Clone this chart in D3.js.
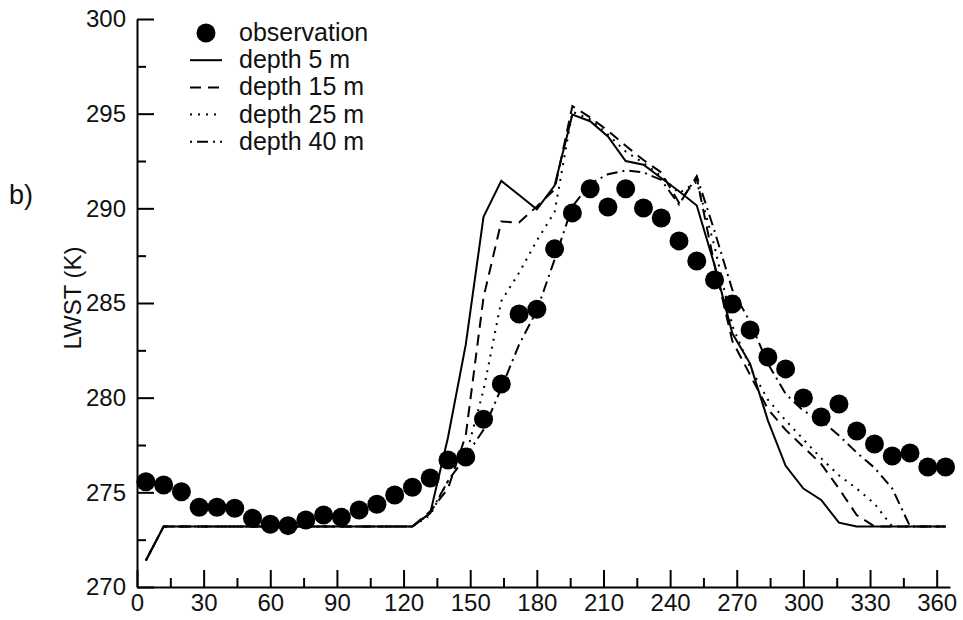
<!DOCTYPE html>
<html>
<head>
<meta charset="utf-8">
<script src="https://cdn.jsdelivr.net/npm/d3@7"></script>
<style>
  body { margin: 0; background: #fff; }
  text { font-family: "Liberation Sans", Arial, sans-serif; fill: #111; }
</style>
</head>
<body>
<div id="chart"></div>
<script>
var w = 963; // Define width
var h = 620; // Define height

// Day of year of each 8-day composite
var days = [4, 12, 20, 28, 36, 44, 52, 60, 68, 76, 84, 92, 100, 108, 116, 124,
    132, 140, 148, 156, 164, 172, 180, 188, 196, 204, 212, 220, 228, 236, 244, 252,
    260, 268, 276, 284, 292, 300, 308, 316, 324, 332, 340, 348, 356, 364];

// Observed LWST (K)
var observation = [275.56, 275.39, 275.03, 274.21, 274.21, 274.16, 273.63, 273.31, 273.24, 273.54,
    273.80, 273.68, 274.07, 274.37, 274.86, 275.27, 275.76, 276.71, 276.87, 278.86,
    280.72, 284.42, 284.67, 287.86, 289.76, 291.03, 290.07, 291.03, 290.02, 289.49,
    288.28, 287.22, 286.22, 284.95, 283.58, 282.15, 281.52, 279.98, 278.98, 279.67,
    278.24, 277.55, 276.92, 277.08, 276.34, 276.34];

// Simulated LWST for each lake depth
var depth5 = [271.4, 273.2, 273.2, 273.2, 273.2, 273.2, 273.2, 273.2, 273.2, 273.2,
    273.2, 273.2, 273.2, 273.2, 273.2, 273.2, 273.9, 277.9, 282.8, 289.55,
    291.45, 290.7, 289.95, 291.2, 294.95, 294.6, 293.8, 292.5, 292.3, 291.6,
    290.9, 290.15, 287.0, 283.4, 281.8, 278.8, 276.4, 275.2, 274.6, 273.4,
    273.2, 273.2, 273.2, 273.2, 273.2, 273.2];
var depth15 = [271.4, 273.2, 273.2, 273.2, 273.2, 273.2, 273.2, 273.2, 273.2, 273.2,
    273.2, 273.2, 273.2, 273.2, 273.2, 273.2, 274.0, 275.2, 278.0, 285.3,
    289.3, 289.25, 290.1, 291.0, 295.4, 294.8, 294.1, 293.3, 292.55, 291.9,
    290.3, 291.6, 287.0, 283.0, 281.2, 279.4, 278.3, 277.4, 276.5, 275.2,
    273.8, 273.2, 273.2, 273.2, 273.2, 273.2];
var depth25 = [271.4, 273.2, 273.2, 273.2, 273.2, 273.2, 273.2, 273.2, 273.2, 273.2,
    273.2, 273.2, 273.2, 273.2, 273.2, 273.2, 273.8, 275.6, 276.9, 280.4,
    285.1, 286.6, 288.3, 289.8, 295.1, 294.7, 293.9, 293.0, 292.4, 291.7,
    290.8, 291.4, 288.0, 283.8, 281.6, 279.9, 278.8, 277.8, 276.8, 275.9,
    275.2, 274.4, 273.2, 273.2, 273.2, 273.2];
var depth40 = [271.4, 273.2, 273.2, 273.2, 273.2, 273.2, 273.2, 273.2, 273.2, 273.2,
    273.2, 273.2, 273.2, 273.2, 273.2, 273.2, 273.9, 275.6, 276.9, 278.3,
    280.5, 282.8, 284.6, 287.3, 290.1, 291.3, 291.8, 292.0, 291.9, 291.5,
    290.2, 291.7, 288.8, 285.7, 284.0, 281.8, 280.2, 279.3, 278.8, 278.0,
    277.1, 276.3, 275.2, 273.2, 273.2, 273.2];

// Tick values
var xTicks = [0, 30, 60, 90, 120, 150, 180, 210, 240, 270, 300, 330, 360];
var xMinorTicks = [15, 45, 75, 105, 135, 165, 195, 225, 255, 285, 315, 345];
var yTicks = [270, 275, 280, 285, 290, 295, 300];
var yMinorTicks = [272.5, 277.5, 282.5, 287.5, 292.5, 297.5];

var legendLabels = ["observation", "depth 5 m", "depth 15 m", "depth 25 m", "depth 40 m"];

function init() {
    var svg = d3.select("#chart")
        .append("svg")
        .attr("width", w)
        .attr("height", h);

    var xScale = d3.scaleLinear()
        .domain([0, 366])
        .range([137, 950]);

    var yScale = d3.scaleLinear()
        .domain([270, 300])
        .range([587, 19]);

    var series = [
        { name: "depth 5 m", values: depth5, dash: null },
        { name: "depth 15 m", values: depth15, dash: "11,7" },
        { name: "depth 25 m", values: depth25, dash: "2,6" },
        { name: "depth 40 m", values: depth40, dash: "2,5,11,5" }
    ];

    var line = d3.line()
        .x(function(d) { return xScale(d.day); })
        .y(function(d) { return yScale(d.value); });

    // Model lines
    svg.selectAll("path.model")
        .data(series)
        .enter()
        .append("path")
        .attr("class", "model")
        .attr("d", function(s) {
            return line(days.map(function(day, i) { return { day: day, value: s.values[i] }; }));
        })
        .attr("fill", "none")
        .attr("stroke", "#000")
        .attr("stroke-width", 2)
        .attr("stroke-dasharray", function(s) { return s.dash; });

    // Observations
    svg.selectAll("circle.obs")
        .data(days)
        .enter()
        .append("circle")
        .attr("class", "obs")
        .attr("cx", function(d) { return xScale(d); })
        .attr("cy", function(d, i) { return yScale(observation[i]); })
        .attr("r", 9.5)
        .attr("fill", "#000");

    // x-axis, ticks pointing up
    svg.append("g")
        .attr("transform", "translate(0," + yScale(270) + ")")
        .call(d3.axisBottom(xScale).tickValues(xTicks).tickSizeInner(-17).tickSizeOuter(0).tickPadding(7));
    svg.append("g")
        .attr("transform", "translate(0," + yScale(270) + ")")
        .call(d3.axisBottom(xScale).tickValues(xMinorTicks).tickSizeInner(-9).tickSizeOuter(0).tickFormat(""))
        .select(".domain").remove();

    // y-axis, ticks pointing right
    svg.append("g")
        .attr("transform", "translate(" + xScale(0) + ",0)")
        .call(d3.axisLeft(yScale).tickValues(yTicks).tickSizeInner(-17).tickSizeOuter(0).tickPadding(11));
    svg.append("g")
        .attr("transform", "translate(" + xScale(0) + ",0)")
        .call(d3.axisLeft(yScale).tickValues(yMinorTicks).tickSizeInner(-9).tickSizeOuter(0).tickFormat(""))
        .select(".domain").remove();

    svg.selectAll(".domain, .tick line")
        .attr("stroke", "#000")
        .attr("stroke-width", 2);
    svg.selectAll(".tick text")
        .style("font-size", "24px")
        .attr("fill", "#111");

    // y-axis title
    svg.append("text")
        .attr("transform", "translate(81,298) rotate(-90)")
        .attr("text-anchor", "middle")
        .style("font-size", "24px")
        .text("LWST (K)");

    // panel label
    svg.append("text")
        .attr("x", 9)
        .attr("y", 204)
        .style("font-size", "27px")
        .text("b)");

    // Legend
    var legend = svg.append("g");
    var rows = legend.selectAll("g")
        .data(legendLabels)
        .enter()
        .append("g")
        .attr("transform", function(d, i) { return "translate(0," + (33 + i * 27.2) + ")"; });

    rows.append("text")
        .attr("x", 239)
        .attr("y", 8)
        .style("font-size", "25px")
        .text(function(d) { return d; });

    rows.filter(function(d, i) { return i === 0; })
        .append("circle")
        .attr("cx", 206)
        .attr("cy", 0)
        .attr("r", 9.5)
        .attr("fill", "#000");

    rows.filter(function(d, i) { return i > 0; })
        .append("line")
        .attr("x1", 190)
        .attr("x2", 222)
        .attr("y1", 0)
        .attr("y2", 0)
        .attr("stroke", "#000")
        .attr("stroke-width", 2)
        .attr("stroke-dasharray", function(d, i) { return series[i].dash; });
}

init();
</script>
</body>
</html>
